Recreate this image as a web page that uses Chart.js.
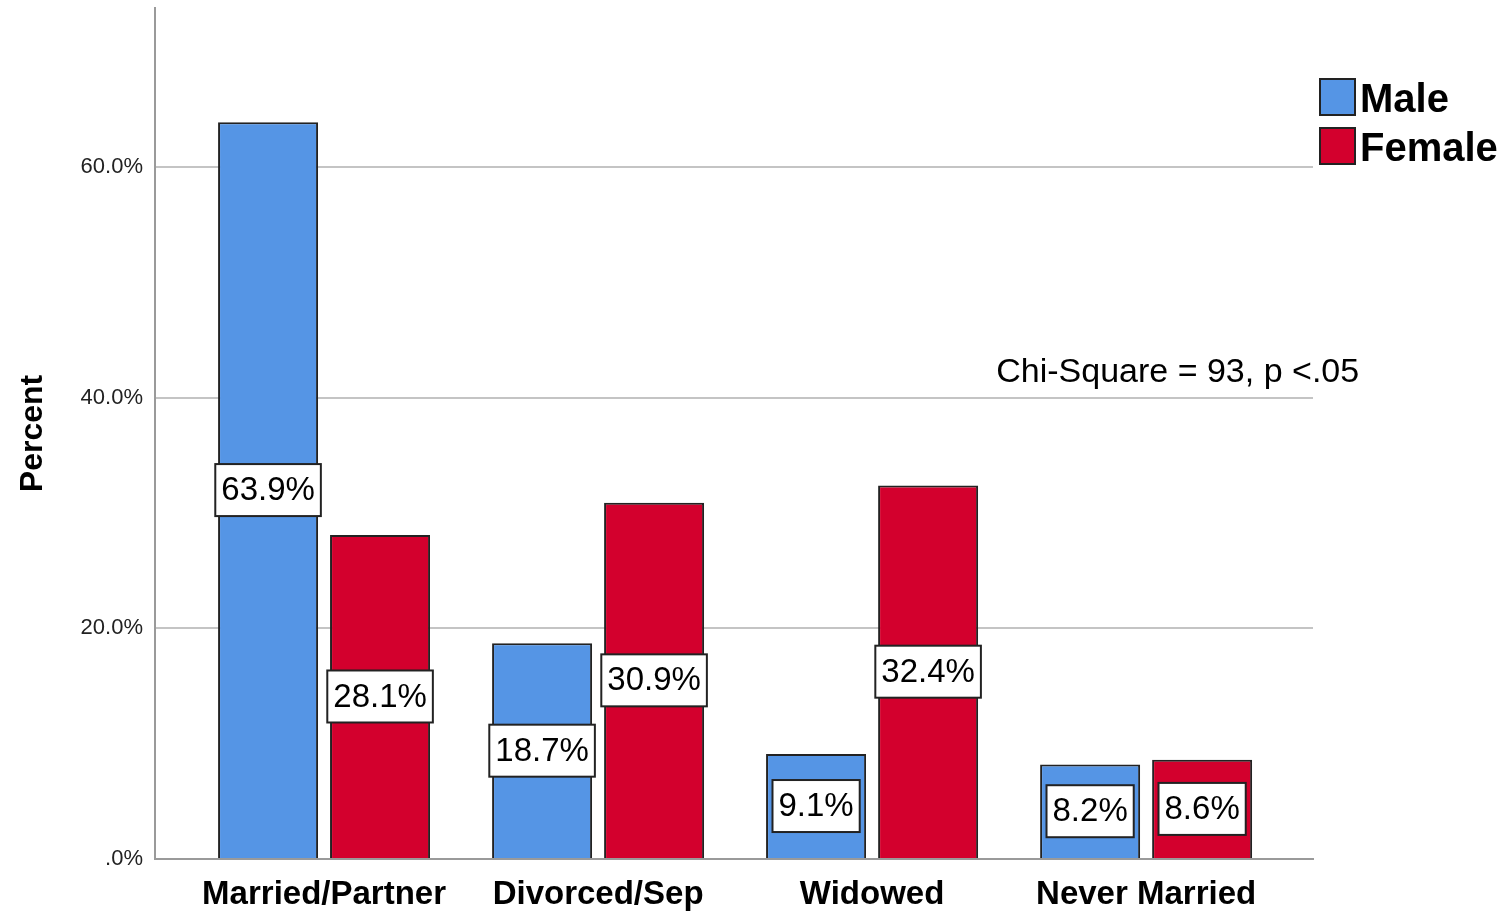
<!DOCTYPE html>
<html>
<head>
<meta charset="utf-8">
<script src="https://cdn.jsdelivr.net/npm/chart.js@4/dist/chart.umd.min.js"></script>
<style>
  html, body { margin: 0; padding: 0; background: #fff; }
  #wrap { width: 1506px; height: 911px; position: relative; }
</style>
</head>
<body>
<div id="wrap"><canvas id="chart" width="1506" height="911"></canvas></div>
<script>
const categories = ['Married/Partner', 'Divorced/Sep', 'Widowed', 'Never Married'];
const maleValues = [63.9, 18.7, 9.1, 8.2];
const femaleValues = [28.1, 30.9, 32.4, 8.6];
const yTicks = [0, 20, 40, 60];
const note = 'Chi-Square = 93, p <.05';

const FONT = '"Liberation Sans", Arial, sans-serif';
const colors = {
    male: '#5595e5',
    female: '#d3002d',
    edge: '#222222',
    axis: '#9a9a9a',
    grid: '#c4c4c4'
};

const toPoints = (vals) => vals.map((v, i) => ({ x: i, y: v }));

// white boxed value labels, centred in each bar
const barLabels = {
    id: 'barLabels',
    afterDatasetsDraw(chart) {
        const ctx = chart.ctx;
        ctx.save();
        ctx.font = `33px ${FONT}`;
        ctx.textAlign = 'center';
        ctx.textBaseline = 'middle';
        chart.data.datasets.forEach((ds, di) => {
            chart.getDatasetMeta(di).data.forEach((bar, i) => {
                const text = ds.data[i].y.toFixed(1) + '%';
                const cy = (bar.y + bar.base) / 2;
                const w = ctx.measureText(text).width + 12;
                const h = 52;
                ctx.fillStyle = '#fff';
                ctx.fillRect(bar.x - w / 2, cy - h / 2, w, h);
                ctx.strokeStyle = colors.edge;
                ctx.lineWidth = 2;
                ctx.strokeRect(bar.x - w / 2, cy - h / 2, w, h);
                ctx.fillStyle = '#000';
                ctx.fillText(text, bar.x, cy + 1);
            });
        });
        ctx.restore();
    }
};

// legend at the top right and the chi-square note
const extras = {
    id: 'extras',
    afterDraw(chart) {
        const ctx = chart.ctx;
        const area = chart.chartArea;
        ctx.save();
        ctx.font = `bold 40px ${FONT}`;
        ctx.textBaseline = 'middle';
        ctx.textAlign = 'left';
        chart.data.datasets.forEach((ds, i) => {
            const top = 79 + i * 49;
            ctx.fillStyle = ds.backgroundColor;
            ctx.fillRect(area.right + 7, top, 35, 36);
            ctx.strokeStyle = colors.edge;
            ctx.lineWidth = 2;
            ctx.strokeRect(area.right + 7, top, 35, 36);
            ctx.fillStyle = '#000';
            ctx.fillText(ds.label, area.right + 47, top + 22);
        });

        const x = chart.scales.x.getPixelForValue(2.453);
        const y = chart.scales.y.getPixelForValue(42.2);
        ctx.font = `34px ${FONT}`;
        ctx.fillText(note, x, y);
        ctx.restore();
    }
};

new Chart(document.getElementById('chart'), {
    type: 'bar',
    data: {
        datasets: [
            {
                label: 'Male',
                data: toPoints(maleValues),
                backgroundColor: colors.male,
                borderColor: colors.edge,
                borderWidth: 2
            },
            {
                label: 'Female',
                data: toPoints(femaleValues),
                backgroundColor: colors.female,
                borderColor: colors.edge,
                borderWidth: 2
            }
        ]
    },
    options: {
        responsive: false,
        animation: false,
        layout: { padding: { top: 8, right: 193, left: 0, bottom: 0 } },
        categoryPercentage: 0.8175,
        barPercentage: 0.893,
        plugins: {
            legend: { display: false },
            tooltip: { enabled: false }
        },
        scales: {
            x: {
                type: 'linear',
                offset: false,
                min: -0.617,
                max: 3.609,
                grid: { display: false, offset: false },
                border: { display: true, color: colors.axis, width: 2 },
                afterFit: (scale) => {
                    scale.height = 52;
                    scale.paddingLeft = 0;
                    scale.paddingRight = 0;
                },
                ticks: {
                    stepSize: 1,
                    includeBounds: false,
                    autoSkip: false,
                    maxRotation: 0,
                    padding: 8,
                    color: '#000',
                    font: { family: FONT, size: 33, weight: 'bold' },
                    callback: (v) => Number.isInteger(v) && categories[v] ? categories[v] : ''
                }
            },
            y: {
                min: 0,
                max: 73.8,
                afterFit: (scale) => {
                    scale.width = 155;
                    scale.paddingTop = 0;
                    scale.paddingBottom = 0;
                },
                afterBuildTicks: (scale) => { scale.ticks = yTicks.map(v => ({ value: v })); },
                grid: { color: colors.grid, lineWidth: 2, drawTicks: false },
                border: { display: true, color: colors.axis, width: 2 },
                title: {
                    display: true,
                    text: 'Percent',
                    color: '#000',
                    padding: { top: 14, bottom: 0 },
                    font: { family: FONT, size: 32, weight: 'bold' }
                },
                ticks: {
                    padding: 12,
                    color: '#222',
                    font: { family: FONT, size: 22 },
                    callback: (v) => v === 0 ? '.0%' : v.toFixed(1) + '%'
                }
            }
        }
    },
    plugins: [barLabels, extras]
});
</script>
</body>
</html>
